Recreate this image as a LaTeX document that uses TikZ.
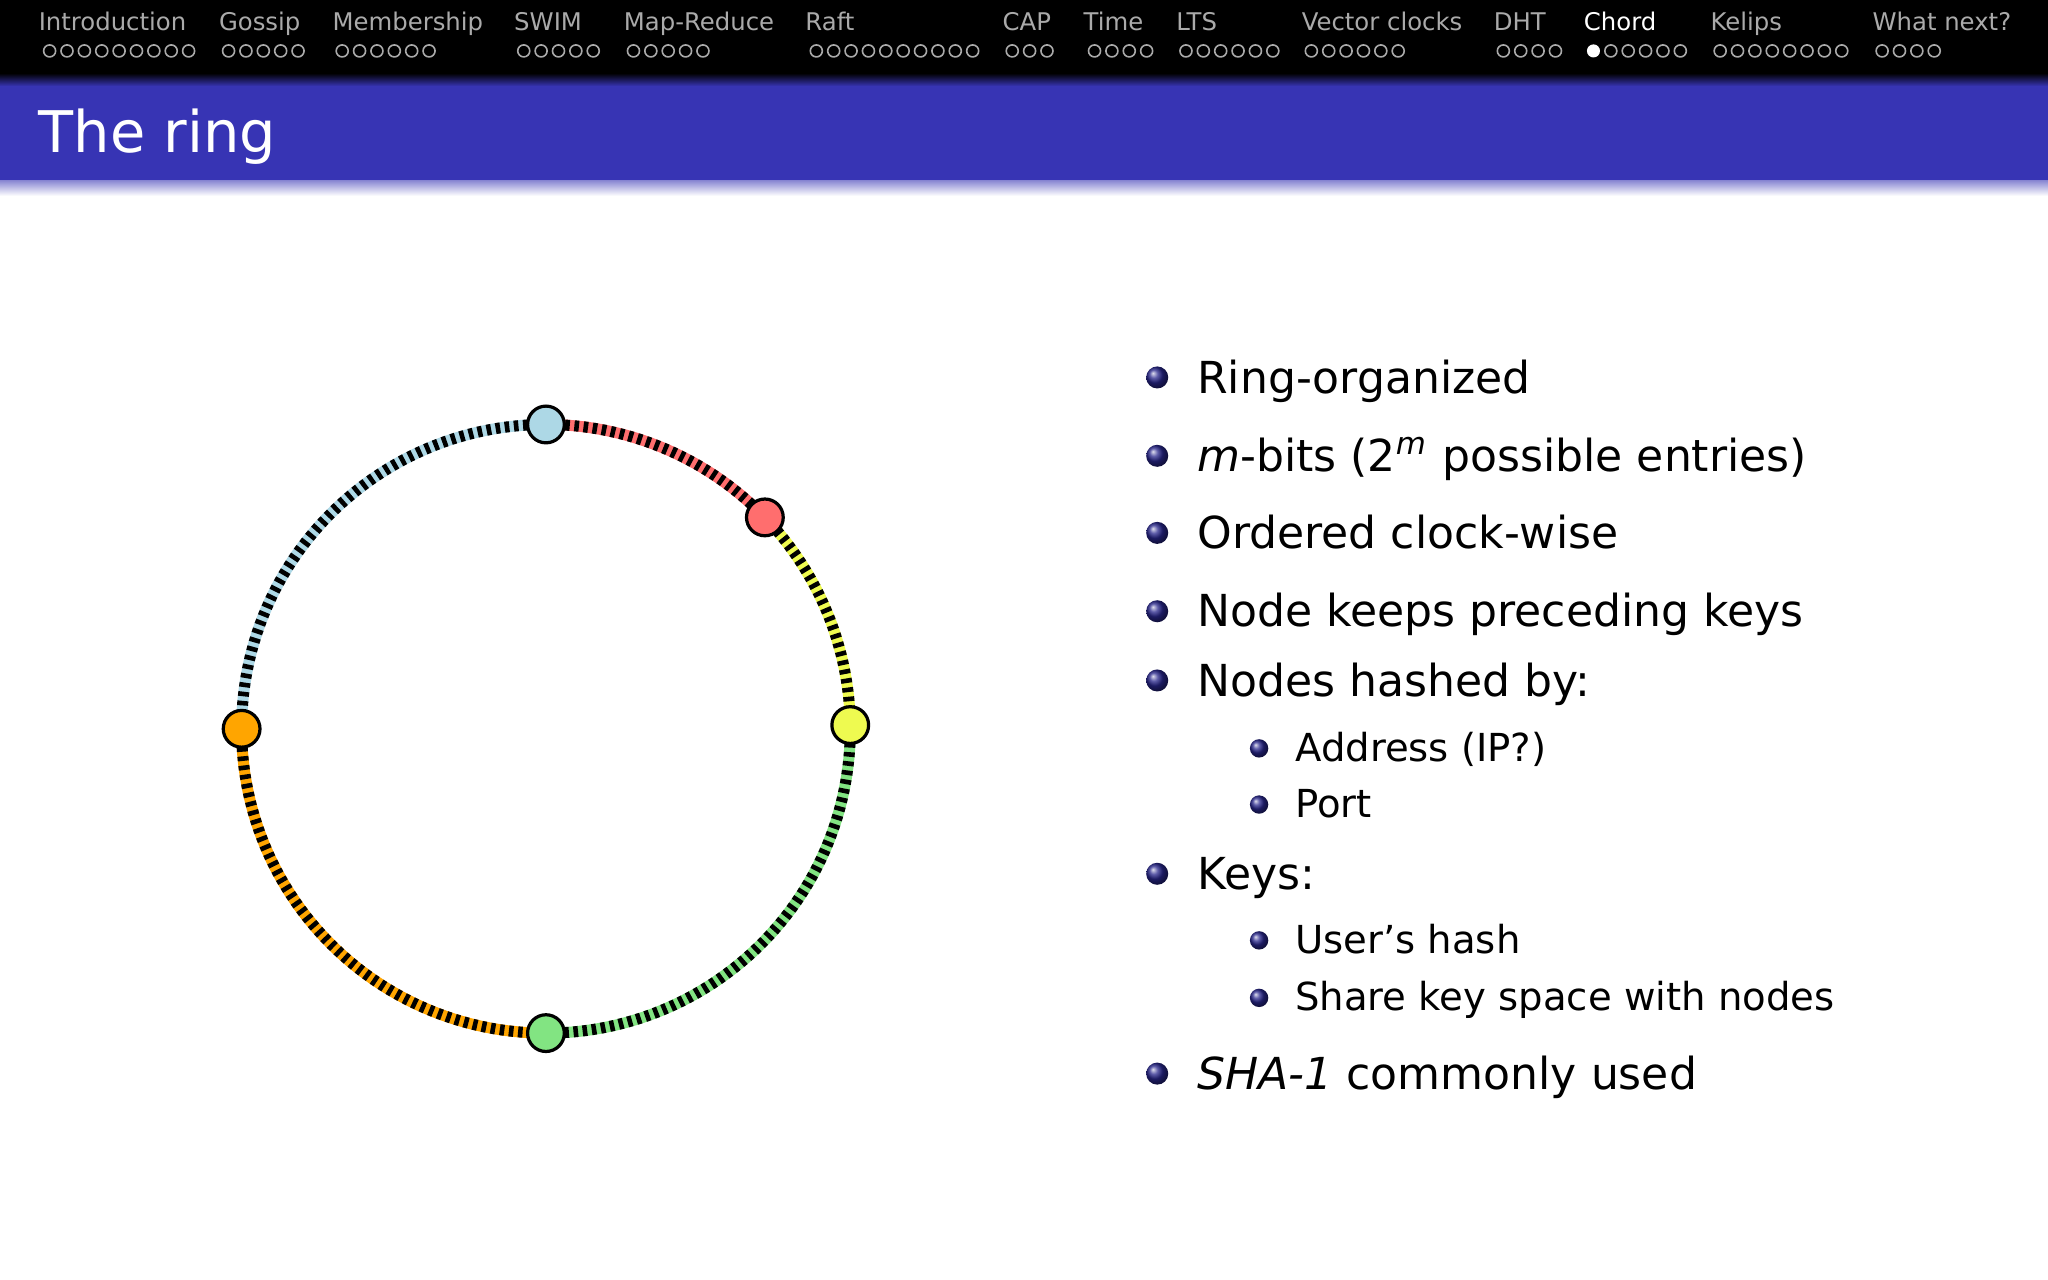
\documentclass[tikz,border=0pt]{standalone}
\usepackage{fontspec}
\setmainfont{DejaVu Sans}
\usetikzlibrary{shadings}
\definecolor{barblue}{RGB}{55,52,180}
\definecolor{ballblue}{RGB}{40,38,140}
\definecolor{hgray}{RGB}{170,170,170}
\definecolor{rblue}{RGB}{173,216,230}
\definecolor{rred}{RGB}{255,110,110}
\definecolor{ryellow}{RGB}{238,250,80}
\definecolor{rgreen}{RGB}{130,228,130}
\definecolor{rorange}{RGB}{255,165,0}
\begin{document}
\begin{tikzpicture}[x=0.01cm,y=-0.01cm,
  hsec/.style={anchor=base west,inner sep=0,font=\fontsize{5.3pt}{6pt}\selectfont,text=hgray},
  main/.style={anchor=base west,inner sep=0,font=\fontsize{9.6pt}{11pt}\selectfont},
  sub/.style={anchor=base west,inner sep=0,font=\fontsize{8.4pt}{10pt}\selectfont},
  bball/.style={circle,inner sep=0,minimum size=#1,ball color=ballblue},
  rnode/.style={circle,draw=black,line width=0.7pt,inner sep=0,minimum size=8pt,fill=#1},
  arcc/.style={line width=2.4pt,draw=#1},
  arcd/.style={line width=2.4pt,draw=black,dash pattern=on 1pt off 1pt}]
\useasboundingbox (0,0) rectangle (1568,980);
\fill[white] (0,0) rectangle (1568,980);
% header
\fill[black] (0,0) rectangle (1568,58);
\shade[top color=black,bottom color=barblue] (0,56) rectangle (1568,66);
\fill[barblue] (0,66) rectangle (1568,138);
\shade[top color=barblue!60,bottom color=white] (0,138) rectangle (1568,150);
\node[anchor=base west,inner sep=0,text=white,font=\fontsize{12.5pt}{14pt}\selectfont] (title) at (29,117) {The ring};
\foreach \t/\x/\n/\dx [count=\i] in {Introduction/29/9/33,Gossip/167/5/170,Membership/254/6/257,SWIM/393/5/396,Map-Reduce/477/5/480,Raft/616/10/620,CAP/767/3/770,Time/829/4/833,LTS/900/6/903,Vector clocks/996/6/999,DHT/1143/4/1146,Chord/1212/6/1215,Kelips/1309/8/1312,What next?/1433/4/1436}{
  \ifnum\i=12
    \node[hsec,text=white] (sec\i) at (\x,23) {\t};
  \else
    \node[hsec] (sec\i) at (\x,23) {\t};
  \fi
  \foreach \k in {1,...,\n}{
    \pgfmathsetmacro\px{\dx+5+(\k-1)*13.3}
    \ifnum\i=12 \ifnum\k=1
      \fill[white] (\px,39) circle (5);
    \else
      \draw[hgray,line width=0.35pt] (\px,39) circle (4.6);
    \fi\else
      \draw[hgray,line width=0.35pt] (\px,39) circle (4.6);
    \fi
  }
}
% ring (y axis points down: angles negated)
\coordinate (c) at (418,558);
\def\R{233}
\foreach \a/\b/\col in {-90/-180/rblue,-44/-90/rred,0/-44/ryellow,90/0/rgreen,-180/-270/rorange}{
  \draw[arcc=\col] ([shift={(\a:\R)}]c) arc[start angle=\a,end angle=\b,radius=\R];
  \draw[arcd] ([shift={(\a:\R)}]c) arc[start angle=\a,end angle=\b,radius=\R];
}
\node[rnode=rblue] (n1) at ([shift={(-90:\R)}]c) {};
\node[rnode=rred] (n2) at ([shift={(-44:\R)}]c) {};
\node[rnode=ryellow] (n3) at ([shift={(-0.7:\R)}]c) {};
\node[rnode=rgreen] (n4) at ([shift={(90:\R)}]c) {};
\node[rnode=rorange] (n5) at ([shift={(180:\R)}]c) {};
% bullets
\foreach \y/\t [count=\i] in {289/Ring-organized,349/{\textit{m}-bits (2\textsuperscript{\textit{m}} possible entries)},408/Ordered clock-wise,468/Node keeps preceding keys,521/Nodes hashed by:,669/Keys:,822/{\textit{SHA-1} commonly used}}{
  \node[bball=4.8pt] (b\i) at (886,\y) {};
  \node[main] (t\i) at (916,\y+12) {\t};
}
\foreach \y/\t [count=\i] in {573/Address (IP?),616/Port,720/User’s hash,764/Share key space with nodes}{
  \node[bball=4pt] (sb\i) at (964,\y) {};
  \node[sub] (st\i) at (991,\y+10) {\t};
}
\end{tikzpicture}
\end{document}
